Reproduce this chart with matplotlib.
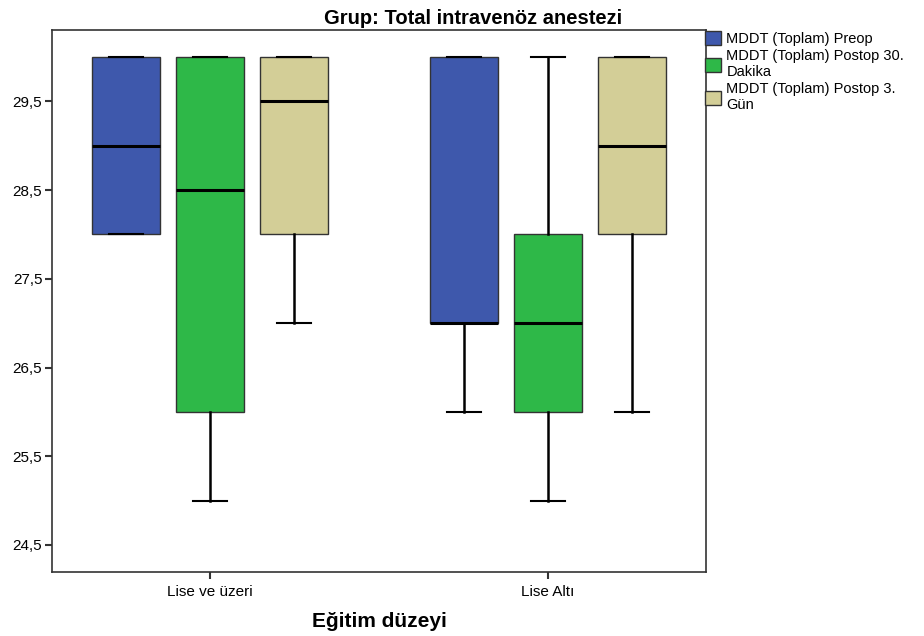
import matplotlib.pyplot as plt
from matplotlib.patches import Patch

plt.rcParams['font.family'] = ['Liberation Sans', 'DejaVu Sans']

groups = ['Lise ve üzeri', 'Lise Altı']
series = ['MDDT (Toplam) Preop', 'MDDT (Toplam) Postop 30.\nDakika', 'MDDT (Toplam) Postop 3.\nGün']
colors = ['#3e58ac', '#2eb848', '#d3ce97']

# per series, per group: (whislo, q1, med, q3, whishi)
preop = [(28, 28, 29, 30, 30), (26, 27, 27, 30, 30)]
post30 = [(25, 26, 28.5, 30, 30), (25, 26, 27, 28, 30)]
post3 = [(27, 28, 29.5, 30, 30), (26, 28, 29, 30, 30)]
all_stats = [preop, post30, post3]

yticks = [24.5, 25.5, 26.5, 27.5, 28.5, 29.5]

fig = plt.figure(figsize=(9.24, 6.36), dpi=100)
ax = fig.add_axes([0.0563, 0.1006, 0.7077, 0.8524])

offsets = [-0.248, 0, 0.248]
for s, stats in enumerate(all_stats):
    bx = []
    for lo, q1, med, q3, hi in stats:
        bx.append(dict(whislo=lo, q1=q1, med=med, q3=q3, whishi=hi, fliers=[]))
    pos = [g + offsets[s] for g in range(len(groups))]
    ax.bxp(bx, positions=pos, widths=0.2, patch_artist=True, showfliers=False,
           boxprops=dict(facecolor=colors[s], edgecolor='#333333', linewidth=1),
           medianprops=dict(color='black', linewidth=2.2),
           whiskerprops=dict(color='black', linewidth=1.8),
           capprops=dict(color='black', linewidth=1.5),
           capwidths=0.1, manage_ticks=False)

ax.set_xlim(-0.467, 1.467)
ax.set_ylim(24.195, 30.305)
ax.set_yticks(yticks)
ax.set_yticklabels([('%.1f' % v).replace('.', ',') for v in yticks], fontsize=11)
ax.set_xticks(range(len(groups)))
ax.set_xticklabels(groups, fontsize=11)
ax.tick_params(axis='both', direction='out', length=5, width=1.5, color='#333333', pad=2)
ax.tick_params(axis='x', pad=4)
for sp in ax.spines.values():
    sp.set_color('#333333')
    sp.set_linewidth(1.2)

fig.text(0.512, 0.9625, 'Grup: Total intravenöz anestezi', fontsize=14.5, fontweight='bold',
         ha='center', va='baseline')
ax.set_xlabel('Eğitim düzeyi', fontsize=15, fontweight='bold', labelpad=10)

handles = [Patch(facecolor=c, edgecolor='#333333', linewidth=1) for c in colors]
fig.legend(handles, series, loc='upper left', bbox_to_anchor=(0.757, 0.96), frameon=False,
           fontsize=10.5, handlelength=1.1, handleheight=1.1, handletextpad=0.35,
           labelspacing=0.2, borderaxespad=0)

fig.savefig('out.png', dpi=100)
